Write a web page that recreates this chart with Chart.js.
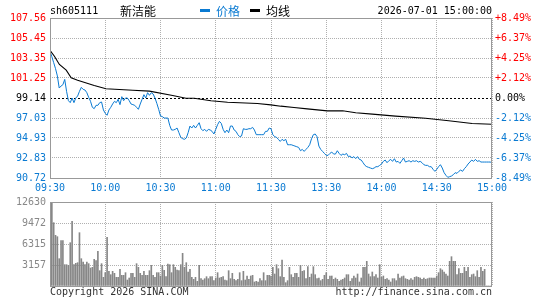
<!DOCTYPE html>
<html lang="zh">
<head>
<meta charset="UTF-8">
<script src="https://cdn.jsdelivr.net/npm/chart.js"></script>
<style>
  body { margin:0; width:545px; height:300px; background:#fff; position:relative; overflow:hidden; }
  canvas { position:absolute; left:0; }
  .t { position:absolute; font:10px "DejaVu Sans Mono", monospace; white-space:nowrap; line-height:12px; color:#000; }
  .cjk { font:12px "Noto Sans CJK SC", sans-serif; line-height:14px; }
  .dash { position:absolute; width:10px; height:3px; }
</style>
</head>
<body>
<canvas id="priceChart" width="545" height="200" style="top:0"></canvas>
<canvas id="volChart" width="545" height="110" style="top:190px"></canvas>

<div class="t" style="left:50px; top:5px">sh605111</div>
<div class="t cjk" style="left:120px; top:4px">新洁能</div>
<div class="dash" style="left:200px; top:9px; background:#0a7ad2"></div>
<div class="t cjk" style="left:216px; top:4px; color:#0a7ad2">价格</div>
<div class="dash" style="left:250px; top:9px; background:#000"></div>
<div class="t cjk" style="left:266px; top:4px">均线</div>
<div class="t" style="right:53px; top:5px">2026-07-01 15:00:00</div>
<div class="t" style="left:50px; top:286px; color:#333">Copyright 2026 SINA.COM</div>
<div class="t" style="right:53px; top:286px; color:#333">http://finance.sina.com.cn</div>

<script>
// data, one value per minute (0 = 09:30, 120 = 11:30/13:00, 240 = 15:00)
const prevClose = 99.14
const timeTicks = [0, 30, 60, 90, 120, 150, 180, 210, 240]
const timeLabels = ['09:30', '10:00', '10:30', '11:00', '11:30', '13:30', '14:00', '14:30', '15:00']
const priceTicks = [90.72, 92.83, 94.93, 97.03, 99.14, 101.25, 103.35, 105.45, 107.56]
const pctTicks = [-8.49, -6.37, -4.25, -2.12, 0, 2.12, 4.25, 6.37, 8.49]
const volTicks = [0, 3157, 6315, 9472, 12630]

const priceAm = [
  104.05, 103.49, 102.86, 102.23, 101.46, 100.19, 100.40, 100.54, 101.10, 99.84,
  98.86, 98.65, 99.14, 98.65, 99.14, 99.35, 99.84, 100.26, 100.05, 99.98,
  99.70, 99.21, 98.79, 98.16, 98.02, 98.37, 98.37, 98.65, 98.72, 97.88,
  97.53, 97.32, 97.88, 98.16, 98.51, 98.79, 98.65, 99.00, 98.44, 99.28,
  98.86, 99.14, 99.14, 98.86, 98.51, 98.44, 98.37, 98.16, 97.95, 98.51,
  99.00, 99.49, 99.14, 99.70, 99.42, 99.70, 99.56, 99.14, 98.58, 97.95,
  97.25, 97.18, 97.03, 97.03, 97.03, 96.26, 95.77, 95.77, 95.84, 95.98,
  95.49, 95.00, 94.86, 94.79, 94.93, 95.49, 96.19, 95.98, 96.26, 95.98,
  96.26, 96.54, 95.91, 95.70, 95.84, 95.63, 95.84, 95.77, 95.63, 95.35,
  95.84, 96.33, 96.68, 96.47, 95.84, 95.49, 95.77, 95.49, 96.19, 96.19,
  95.77, 95.63, 95.28, 95.07, 95.14, 95.91, 95.84, 95.84, 95.91, 95.91,
  96.05, 95.77, 95.28, 95.28, 95.28, 95.28, 95.28, 95.63, 95.63, 95.98,
  95.91
]
const pricePm = [
  95.28, 95.07, 95.00, 94.79, 94.57, 94.79, 94.65, 94.79, 94.22, 94.22,
  94.22, 94.15, 94.08, 94.01, 93.94, 93.59, 93.73, 93.52, 93.73, 93.94,
  94.22, 94.85, 95.28, 95.35, 95.07, 94.08, 93.73, 93.52, 93.31, 93.10,
  93.10, 93.31, 93.45, 93.24, 93.24, 93.59, 93.31, 93.10, 93.24,
  93.17, 93.31, 92.97, 93.03, 92.83, 92.97, 92.76, 92.97, 92.68, 92.61,
  92.33, 92.05, 91.91, 91.84, 91.77, 91.70, 91.77, 91.91, 91.91, 92.05,
  92.19, 92.47, 92.61, 92.33, 92.54, 92.68, 92.47, 92.75, 92.40, 92.47,
  92.26, 92.54, 92.82, 92.40, 92.47, 92.54, 92.40, 92.54, 92.47, 92.54,
  92.40, 92.47, 92.33, 92.12, 92.05, 92.05, 91.91, 91.91, 91.63, 91.42,
  91.63, 91.91, 92.12, 91.77, 91.28, 91.00, 90.79, 90.86, 90.93, 91.07,
  91.28, 91.21, 91.42, 91.56, 91.42, 91.70, 91.91, 92.19, 92.40, 92.61,
  92.47, 92.68, 92.47, 92.54, 92.40, 92.40, 92.40, 92.40, 92.40, 92.40,
  92.33
]

// average line, read at a few places (minute, price)
const avgTime = [0, 2.4, 5.1, 8.8, 11.5, 15, 24, 30.4, 45, 54, 66.6, 73.8, 78.3, 87.4, 96.4, 112.6, 119.9,
  125.3, 132.5, 139.7, 150.6, 158.9, 166, 175, 187.6, 203.9, 216.5, 229.2, 240]
const avgPrice = [104.17, 103.54, 102.67, 102.07, 101.27, 101.01, 100.46, 100.11, 99.96, 99.86, 99.40, 99.12,
  99.12, 98.85, 98.70, 98.56, 98.42, 98.28, 98.14, 98.00, 97.79, 97.79, 97.58, 97.44, 97.23, 97.01, 96.74,
  96.46, 96.38]

const volAm = [
  4108, 12630, 9520, 7615, 7415, 4108, 6814, 6814, 3206, 3206,
  3106, 6513, 9720, 3206, 3407, 3507, 8016, 4108, 3607, 3206,
  3607, 3357, 2705, 2806, 4008, 3808, 5210, 2305, 3357, 1303,
  2004, 7315, 2204, 1703, 2204, 1904, 1303, 1303, 2505, 1603,
  1603, 2004, 902, 1202, 1904, 1904, 1303, 3357, 2806, 1904,
  1603, 2204, 1603, 1603, 2305, 3106, 1603, 1303, 2004, 2004,
  1503, 3106, 2355, 1403, 3307, 3206, 2004, 3206, 2806, 2405,
  2305, 3206, 4910, 2806, 3507, 2104, 2505, 1303, 1002, 1303,
  701, 3106, 1102, 902, 1102, 1403, 1102, 1403, 1403, 802,
  1202, 2004, 1202, 1303, 1403, 902, 802, 2305, 1102, 1904,
  1002, 802, 1002, 2004, 802, 2204, 902, 1503, 1002, 1503,
  1603, 601, 701, 601, 1102, 802, 2004, 802, 1603, 1603,
  1503
]
const volPm = [
  2806, 1804, 3206, 2605, 1403, 3908, 1303, 501, 802, 2806,
  1703, 1303, 1904, 1904, 1303, 3106, 2204, 2305, 1102, 2906,
  1303, 1804, 2906, 1703, 1102, 1202, 802, 1002, 1603, 2004,
  1002, 1503, 1503, 1002, 1202, 1002, 701, 902, 1002, 1202,
  1703, 1703, 701, 1102, 1503, 1203, 1804, 601, 1202, 2806,
  2806, 3707, 1804, 1403, 2104, 1403, 1703, 1202, 3206, 1303,
  1503, 1002, 1102, 902, 601, 1102, 1102, 802, 1804, 1202,
  1403, 1503, 1102, 1002, 902, 1102, 902, 1303, 1403, 1303,
  1202, 1002, 1202, 1002, 1102, 1202, 1202, 1202, 1202, 1503,
  2004, 2605, 2405, 2104, 1804, 1503, 3707, 4409, 3707, 3707,
  1703, 2605, 1904, 1904, 2806, 2204, 2806, 1303, 1703, 1804,
  1403, 2305, 1303, 2806, 2204, 2505, 0, 0, 0, 0
]

const BLUE = '#0a7ad2'
const RED = '#ff0000'
const GRID = '#b0b0b0'
const monoFont = { family: 'DejaVu Sans Mono', size: 10 }

const prices = priceAm.concat(pricePm)
const vols = volAm.concat(volPm)
const pricePoints = prices.map((p, i) => ({ x: i, y: p }))
const avgPoints = avgTime.map((t, i) => ({ x: t, y: avgPrice[i] }))
const volPoints = vols.map((v, i) => ({ x: i, y: v }))

function tickColor(v, mid) {
  if (Math.abs(v - mid) < 0.001) return '#000'
  return v > mid ? RED : BLUE
}

const framePlugin = {
  id: 'frame',
  beforeDatasetsDraw(chart) {
    const y = chart.scales.y
    if (!chart.options.plugins.frame.prevClose) return
    const ctx = chart.ctx
    const a = chart.chartArea
    const py = Math.round(y.getPixelForValue(prevClose)) + 0.5
    ctx.save()
    ctx.strokeStyle = '#000'
    ctx.lineWidth = 1
    ctx.setLineDash([2, 2])
    ctx.beginPath()
    ctx.moveTo(a.left, py)
    ctx.lineTo(a.right, py)
    ctx.stroke()
    ctx.restore()
  },
  afterDraw(chart) {
    const ctx = chart.ctx
    const a = chart.chartArea
    ctx.save()
    ctx.strokeStyle = '#999'
    ctx.lineWidth = 1
    ctx.strokeRect(a.left + 0.5, a.top + 0.5, a.right - a.left - 1, a.bottom - a.top)
    ctx.restore()
  }
}

function timeAxis(showLabels) {
  return {
    type: 'linear',
    min: 0,
    max: 240,
    offset: false,
    afterBuildTicks: s => { s.ticks = timeTicks.map(v => ({ value: v })) },
    afterFit: s => { s.height = showLabels ? 22 : 0 },
    grid: { color: GRID, drawTicks: false, offset: false },
    border: { display: false, dash: [1, 1] },
    ticks: {
      display: showLabels,
      autoSkip: false,
      maxRotation: 0,
      padding: 4,
      color: BLUE,
      font: monoFont,
      callback: v => timeLabels[timeTicks.indexOf(v)]
    }
  }
}

new Chart(document.getElementById('priceChart'), {
  type: 'line',
  data: {
    datasets: [
      { data: avgPoints, borderColor: '#000', borderWidth: 1.1, pointRadius: 0, tension: 0 },
      { data: pricePoints, borderColor: BLUE, borderWidth: 1, pointRadius: 0, tension: 0 }
    ]
  },
  options: {
    responsive: false,
    animation: false,
    devicePixelRatio: 1,
    layout: { padding: { top: 18, left: 0, right: 0, bottom: 0 } },
    plugins: { legend: { display: false }, tooltip: { enabled: false }, frame: { prevClose: true } },
    scales: {
      x: timeAxis(true),
      y: {
        position: 'left',
        min: priceTicks[0],
        max: priceTicks[priceTicks.length - 1],
        afterBuildTicks: s => { s.ticks = priceTicks.map(v => ({ value: v })) },
        afterFit: s => { s.width = 50 },
        grid: {
          drawTicks: false,
          color: c => (c.tick && Math.abs(c.tick.value - prevClose) < 0.001) ? 'rgba(0,0,0,0)' : GRID
        },
        border: { display: false, dash: [1, 1] },
        ticks: {
          padding: 4,
          font: monoFont,
          color: c => tickColor(c.tick.value, prevClose),
          callback: v => v.toFixed(2)
        }
      },
      pct: {
        position: 'right',
        min: pctTicks[0],
        max: pctTicks[pctTicks.length - 1],
        afterBuildTicks: s => { s.ticks = pctTicks.map(v => ({ value: v })) },
        afterFit: s => { s.width = 53 },
        grid: { display: false, drawTicks: false },
        border: { display: false },
        ticks: {
          padding: 3,
          font: monoFont,
          color: c => tickColor(c.tick.value, 0),
          callback: v => (v > 0 ? '+' : '') + v.toFixed(2) + '%'
        }
      }
    }
  },
  plugins: [framePlugin]
})

new Chart(document.getElementById('volChart'), {
  type: 'bar',
  data: {
    datasets: [
      { data: volPoints, backgroundColor: '#878787', borderWidth: 0, barThickness: 1 }
    ]
  },
  options: {
    responsive: false,
    animation: false,
    devicePixelRatio: 1,
    layout: { padding: { top: 12, left: 0, right: 53, bottom: 14 } },
    plugins: { legend: { display: false }, tooltip: { enabled: false }, frame: { prevClose: false } },
    scales: {
      x: timeAxis(false),
      y: {
        position: 'left',
        min: 0,
        max: volTicks[volTicks.length - 1],
        afterBuildTicks: s => { s.ticks = volTicks.map(v => ({ value: v })) },
        afterFit: s => { s.width = 50 },
        grid: { color: GRID, drawTicks: false },
        border: { display: false, dash: [1, 1] },
        ticks: {
          padding: 4,
          font: monoFont,
          color: '#888',
          callback: v => v === 0 ? '' : String(v)
        }
      }
    }
  },
  plugins: [framePlugin]
})
</script>
</body>
</html>
